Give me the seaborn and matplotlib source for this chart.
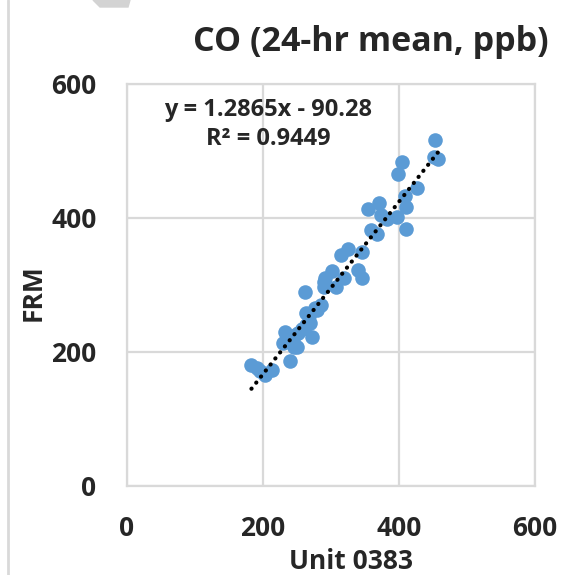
import numpy as np
import pandas as pd
import seaborn as sns
import matplotlib.pyplot as plt
from matplotlib.lines import Line2D
from matplotlib.patches import Polygon

# data
unit_0383 = [183, 191, 196, 203, 213, 239, 230, 232, 236, 240, 245, 250, 247, 252, 258,
             263, 269, 272, 263, 267, 276, 279, 286, 262, 289, 289, 291, 302, 307, 319,
             314, 325, 345, 340, 345, 359, 368, 354, 371, 374, 382, 397, 410, 410, 409,
             427, 399, 405, 451, 457, 453]
frm = [180, 176, 172, 166, 173, 186, 213, 230, 222, 218, 208, 207, 225, 228, 235,
       240, 244, 223, 258, 254, 265, 263, 270, 290, 297, 305, 310, 321, 297, 310,
       345, 353, 350, 323, 310, 382, 376, 414, 422, 404, 398, 401, 417, 383, 433,
       445, 466, 483, 491, 488, 516]
slope = 1.2865
intercept = -90.28
r2 = 0.9449
ticks = [0, 200, 400, 600]

df = pd.DataFrame({'Unit 0383': unit_0383, 'FRM': frm})
xs = np.array([df['Unit 0383'].min(), df['Unit 0383'].max()])
trend = pd.DataFrame({'x': xs, 'y': slope * xs + intercept})

sns.set_style('white')
plt.rcParams['font.family'] = ['Open Sans', 'DejaVu Sans']
plt.rcParams['font.weight'] = 'bold'

fig = plt.figure(figsize=(5.64, 5.75), dpi=100)
ax = fig.add_axes([127 / 564, 1 - 486 / 575, 408 / 564, 402 / 575])

grid_c = '#D9D9D9'
ax.grid(True, color=grid_c, linewidth=1.6)
ax.set_axisbelow(True)
for s in ax.spines.values():
    s.set_color(grid_c)
    s.set_linewidth(1.6)

sns.scatterplot(data=df, x='Unit 0383', y='FRM', ax=ax, color='#5B9BD5',
                s=110, linewidth=0, alpha=1, zorder=3)
sns.lineplot(data=trend, x='x', y='y', ax=ax, color='black', linewidth=3,
             linestyle=(0, (0.05, 1.8)), dash_capstyle='round', zorder=4)

ax.set_xlim(0, 600)
ax.set_ylim(0, 600)
ax.set_xticks(ticks)
ax.set_yticks(ticks)
ax.tick_params(axis='both', length=0, labelsize=19)
ax.tick_params(axis='x', pad=21)
ax.tick_params(axis='y', pad=22)
for lab in ax.get_xticklabels() + ax.get_yticklabels():
    lab.set_fontweight('bold')

ax.set_xlabel('Unit 0383', fontsize=19, fontweight='bold')
ax.set_ylabel('FRM', fontsize=19, fontweight='bold')
ax.xaxis.set_label_coords(0.549, -0.155)
ax.yaxis.set_label_coords(-0.196, 0.48)

ax.text(0.346, 0.900, f'y = {slope}x - {abs(intercept)}\nR² = {r2}',
        transform=ax.transAxes, ha='center', va='center', fontsize=17,
        fontweight='bold', linespacing=1.3)

fig.text(371 / 564, 1 - 42 / 575, 'CO (24-hr mean, ppb)', ha='center', va='center',
         fontsize=24.5, fontweight='bold')

# frame edge and artifact from the source screenshot
fig.add_artist(Line2D([8 / 564, 8 / 564], [0, 1], color=grid_c, linewidth=2))
fig.add_artist(Polygon([(93 / 564, 1), (130 / 564, 1), (128 / 564, 1 - 7 / 575),
                        (100 / 564, 1 - 7 / 575)], closed=True, color='#D3D3D3',
                       transform=fig.transFigure))

fig.savefig('out.png', dpi=100)
